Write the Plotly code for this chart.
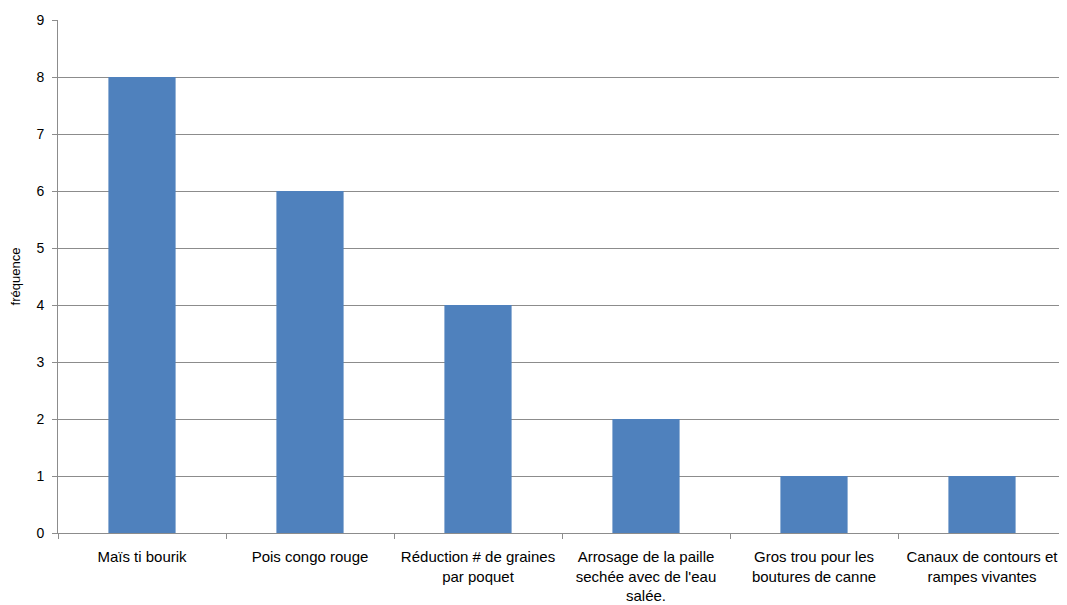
import plotly.graph_objects as go

categories = [
    "Maïs ti bourik",
    "Pois congo rouge",
    "Réduction # de graines<br>par poquet",
    "Arrosage de la paille<br>sechée avec de l'eau<br>salée.",
    "Gros trou pour les<br>boutures de canne",
    "Canaux de contours et<br>rampes vivantes",
]
values = [8, 6, 4, 2, 1, 1]
y_ticks = list(range(0, 10))

fig = go.Figure(
    go.Bar(
        x=categories,
        y=values,
        marker=dict(color="#4F81BD", line=dict(width=0)),
    )
)

font_family = "Liberation Sans, Arial, sans-serif"
# page body adds an 8px offset; figure sized to fill the remaining viewport
fig.update_layout(
    width=1059,
    height=597,
    margin=dict(l=50, r=1, t=12, b=72),
    paper_bgcolor="white",
    plot_bgcolor="white",
    bargap=0.6,
    showlegend=False,
    font=dict(family=font_family, size=13, color="#000000"),
)
fig.update_xaxes(
    type="category",
    showgrid=False,
    showline=True,
    linecolor="#8C8C8C",
    linewidth=1,
    ticks="outside",
    tickson="boundaries",
    ticklen=5,
    tickcolor="#8C8C8C",
    ticklabelstandoff=10,
    tickangle=0,
    automargin=False,
    tickfont=dict(size=15, family=font_family),
)
fig.update_yaxes(
    range=[0, 9],
    tickvals=y_ticks,
    showgrid=True,
    gridcolor="#8C8C8C",
    gridwidth=1,
    showline=True,
    linecolor="#8C8C8C",
    ticks="outside",
    ticklen=5,
    tickcolor="#8C8C8C",
    ticklabelstandoff=5,
    automargin=False,
    tickfont=dict(size=14, family=font_family),
    zeroline=False,
    title=dict(text="fréquence", font=dict(size=13, family=font_family), standoff=12),
)

fig.write_html("out.html")
